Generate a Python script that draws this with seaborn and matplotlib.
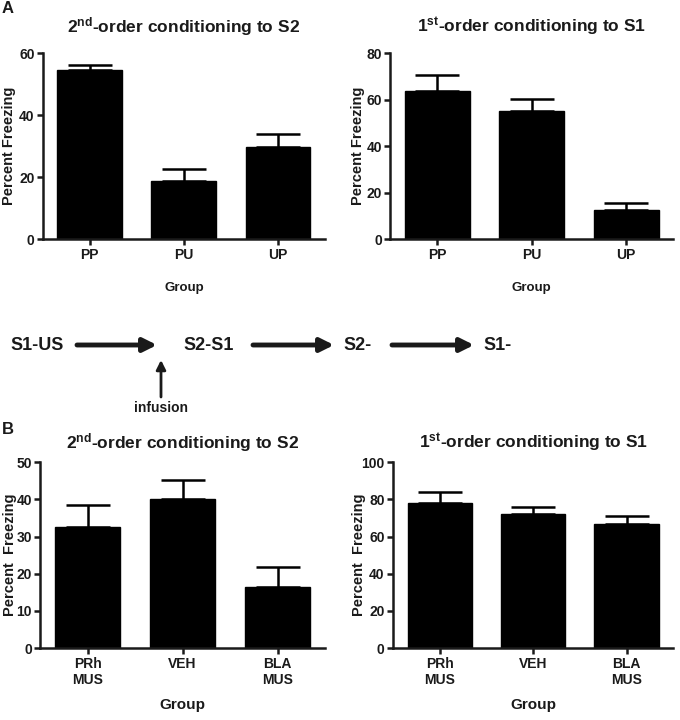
import matplotlib
matplotlib.use("Agg")
import matplotlib.pyplot as plt
import seaborn as sns
import numpy as np
import pandas as pd

# ---- data ----
groups_a = ["PP", "PU", "UP"]
a_second_mean = [54.5, 18.6, 29.8]
a_second_err = [1.7, 4.0, 4.2]
a_first_mean = [63.8, 55.0, 12.3]
a_first_err = [6.7, 5.3, 3.4]

groups_b = ["PRh\nMUS", "VEH", "BLA\nMUS"]
b_second_mean = [32.5, 40.0, 16.3]
b_second_err = [6.0, 5.3, 5.4]
b_first_mean = [78.3, 72.3, 66.8]
b_first_err = [5.7, 3.7, 4.2]

title_second = r"2$^{\rm nd}$-order conditioning to S2"
title_first = r"1$^{\rm st}$-order conditioning to S1"

sns.set_style("ticks")
plt.rcParams["font.family"] = ["Liberation Sans", "DejaVu Sans"]
plt.rcParams["font.weight"] = "bold"
plt.rcParams["mathtext.fontset"] = "custom"
plt.rcParams["mathtext.rm"] = "Liberation Sans:bold"
plt.rcParams["mathtext.bf"] = "Liberation Sans:bold"
plt.rcParams["mathtext.it"] = "Liberation Sans:bold"

TXT = "#1a1a1a"
fig = plt.figure(figsize=(6.8, 7.2), dpi=100)


def panel(rect, cats, means, errs, ylim, ticks, title, ylabel, title_pad,
          xlabel_pad, xlabel_size, ylabel_x):
    ax = fig.add_axes(rect)
    df = pd.DataFrame({"Group": cats, "val": means})
    sns.barplot(data=df, x="Group", y="val", color="black", width=0.69,
                errorbar=None, ax=ax, saturation=1, edgecolor="black")
    ax.errorbar(np.arange(len(cats)), means,
                yerr=[np.zeros(len(errs)), errs], fmt="none",
                ecolor="black", elinewidth=1.8, capsize=15.5, capthick=1.8)
    ax.set_ylim(*ylim)
    ax.set_yticks(ticks)
    ax.set_xlim(-0.5, len(cats) - 0.5)
    sns.despine(ax=ax)
    for s in ["left", "bottom"]:
        ax.spines[s].set_linewidth(1.8)
        ax.spines[s].set_color(TXT)
    ax.tick_params(axis="both", width=1.8, length=4.5, labelsize=10,
                   colors=TXT, direction="out", pad=2)
    ax.tick_params(axis="y", pad=1.5)
    for lab in ax.get_xticklabels() + ax.get_yticklabels():
        lab.set_fontweight("bold")
    ax.set_ylabel(ylabel, fontsize=10.5, fontweight="bold", color=TXT)
    ax.yaxis.set_label_coords(ylabel_x, 0.5)
    ax.set_xlabel("Group", fontsize=xlabel_size, fontweight="bold", color=TXT,
                  labelpad=xlabel_pad)
    ax.set_title(title, fontsize=12.5, fontweight="bold", color=TXT, pad=title_pad)
    return ax


panel([0.063, 0.668, 0.415, 0.258], groups_a, a_second_mean, a_second_err,
      (0, 60), [0, 20, 40, 60], title_second, "Percent Freezing", 15, 14, 9.5, -0.094)
panel([0.574, 0.668, 0.416, 0.258], groups_a, a_first_mean, a_first_err,
      (0, 80), [0, 20, 40, 60, 80], title_first, "Percent Freezing", 15, 14, 9.5, -0.088)
panel([0.059, 0.100, 0.419, 0.258], groups_b, b_second_mean, b_second_err,
      (0, 50), [0, 10, 20, 30, 40, 50], title_second, "Percent  Freezing", 10, 8, 11, -0.082)
panel([0.578, 0.100, 0.412, 0.258], groups_b, b_first_mean, b_first_err,
      (0, 100), [0, 20, 40, 60, 80, 100], title_first, "Percent  Freezing", 10, 8, 11, -0.095)

# panel letters
fig.text(0.003, 0.988, "A", fontsize=12, fontweight="bold", color=TXT, va="center", ha="left")
fig.text(0.003, 0.403, "B", fontsize=12, fontweight="bold", color=TXT, va="center", ha="left")

# schematic
W, H = 680.0, 720.0
def fx(x): return x / W
def fy(y): return 1 - y / H

yrow = 345
for label, x in [("S1-US", 10), ("S2-S1", 183), ("S2-", 343), ("S1-", 483)]:
    fig.text(fx(x), fy(yrow), label, fontsize=13, fontweight="bold",
             color=TXT, ha="left", va="center")

for x0, x1 in [(77, 157), (253, 334), (392, 474)]:
    fig.add_artist(matplotlib.patches.FancyArrowPatch(
        (fx(x0), fy(yrow)), (fx(x1), fy(yrow)), transform=fig.transFigure,
        arrowstyle="-|>", mutation_scale=20, lw=3.5, color=TXT,
        shrinkA=0, shrinkB=0))

fig.add_artist(matplotlib.patches.FancyArrowPatch(
    (fx(161), fy(397)), (fx(161), fy(360)), transform=fig.transFigure,
    arrowstyle="-|>", mutation_scale=14, lw=2, color=TXT,
    shrinkA=0, shrinkB=0))
fig.text(fx(161), fy(408), "infusion", fontsize=10, fontweight="bold",
         color=TXT, ha="center", va="center")

fig.savefig("out.png", dpi=100)
